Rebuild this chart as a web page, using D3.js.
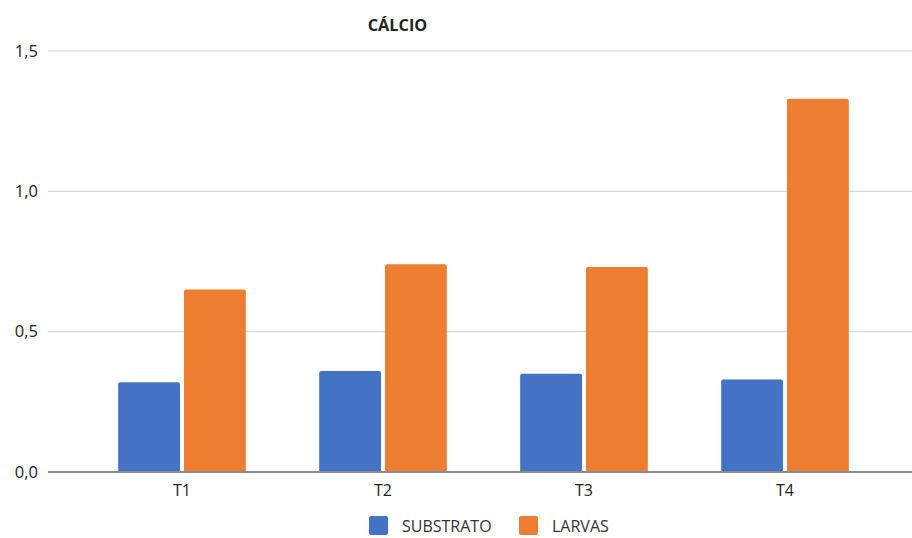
<!DOCTYPE html>
<html>
<head>
<meta charset="utf-8">
<script src="https://cdn.jsdelivr.net/npm/d3@7"></script>
<style>
  html, body { margin: 0; padding: 0; background: #fff; }
  svg { display: block; font-family: "Open Sans", "Noto Sans", sans-serif; }
</style>
</head>
<body>
<svg id="chart" width="912" height="538"></svg>
<script>
// Calcium content per treatment
const categories = ["T1", "T2", "T3", "T4"];
const substrato = [0.32, 0.36, 0.35, 0.33];
const larvas = [0.65, 0.74, 0.73, 1.33];
const seriesNames = ["SUBSTRATO", "LARVAS"];
const seriesColors = ["#4472C4", "#ED7D31"];
const yTicks = [0, 0.5, 1.0, 1.5];

const series = [substrato, larvas];
const svg = d3.select("#chart");

const gridLeft = 48, gridRight = 912;
const y = d3.scaleLinear().domain([0, 1.5]).range([472, 51]);
const x = d3.scaleBand().domain(categories).range([82, 885]).paddingInner(0.365).paddingOuter(0.18);
const xs = d3.scaleBand().domain(d3.range(series.length)).range([0, x.bandwidth()]).paddingInner(0.06);

// horizontal gridlines
svg.append("g")
  .selectAll("line")
  .data(yTicks.filter(d => d > 0))
  .join("line")
  .attr("x1", gridLeft).attr("x2", gridRight)
  .attr("y1", d => y(d)).attr("y2", d => y(d))
  .attr("stroke", "#d9d9d9").attr("stroke-width", 1.2);

// y axis labels
const yAxis = d3.axisLeft(y).tickValues(yTicks).tickSize(0).tickPadding(0)
  .tickFormat(d => d3.format(".1f")(d).replace(".", ","));
svg.append("g")
  .attr("transform", `translate(38,0)`)
  .call(yAxis)
  .call(g => g.select(".domain").remove())
  .call(g => g.selectAll("text").attr("font-size", 16.5).attr("fill", "#222")
    .attr("font-family", "'Open Sans', sans-serif"));

// bars with slightly rounded tops
function barPath(x0, w, yTop, yBase, r) {
  return `M${x0},${yBase}V${yTop + r}Q${x0},${yTop} ${x0 + r},${yTop}H${x0 + w - r}Q${x0 + w},${yTop} ${x0 + w},${yTop + r}V${yBase}Z`;
}
const groups = svg.append("g")
  .selectAll("g")
  .data(categories)
  .join("g")
  .attr("transform", d => `translate(${x(d)},0)`);
groups.selectAll("path")
  .data((d, i) => series.map((s, k) => ({ k, v: s[i] })))
  .join("path")
  .attr("d", d => barPath(xs(d.k), xs.bandwidth(), y(d.v), y(0), 2))
  .attr("fill", d => seriesColors[d.k]);

// baseline
svg.append("line")
  .attr("x1", gridLeft).attr("x2", gridRight)
  .attr("y1", y(0)).attr("y2", y(0))
  .attr("stroke", "#8c8c8c").attr("stroke-width", 2);

// x axis labels
const xAxis = d3.axisBottom(x).tickSize(0).tickPadding(0);
svg.append("g")
  .attr("transform", `translate(0,${y(0) + 13})`)
  .call(xAxis)
  .call(g => g.select(".domain").remove())
  .call(g => g.selectAll("text").attr("font-size", 16).attr("fill", "#222")
    .attr("dy", "0.71em").attr("font-family", "'Open Sans', sans-serif"));

// title
svg.append("text")
  .attr("x", 397.5).attr("y", 31)
  .attr("text-anchor", "middle")
  .attr("font-size", 16.3).attr("font-weight", "bold").attr("fill", "#222")
  .text("CÁLCIO");

// legend
const legendX = [369, 519];
const legend = svg.append("g")
  .selectAll("g")
  .data(seriesNames)
  .join("g")
  .attr("transform", (d, i) => `translate(${legendX[i]},516)`);
legend.append("rect")
  .attr("width", 19).attr("height", 19).attr("rx", 2)
  .attr("fill", (d, i) => seriesColors[i]);
legend.append("text")
  .attr("x", 33).attr("y", 15.5)
  .attr("font-size", 16).attr("fill", "#333")
  .text(d => d);
</script>
</body>
</html>
